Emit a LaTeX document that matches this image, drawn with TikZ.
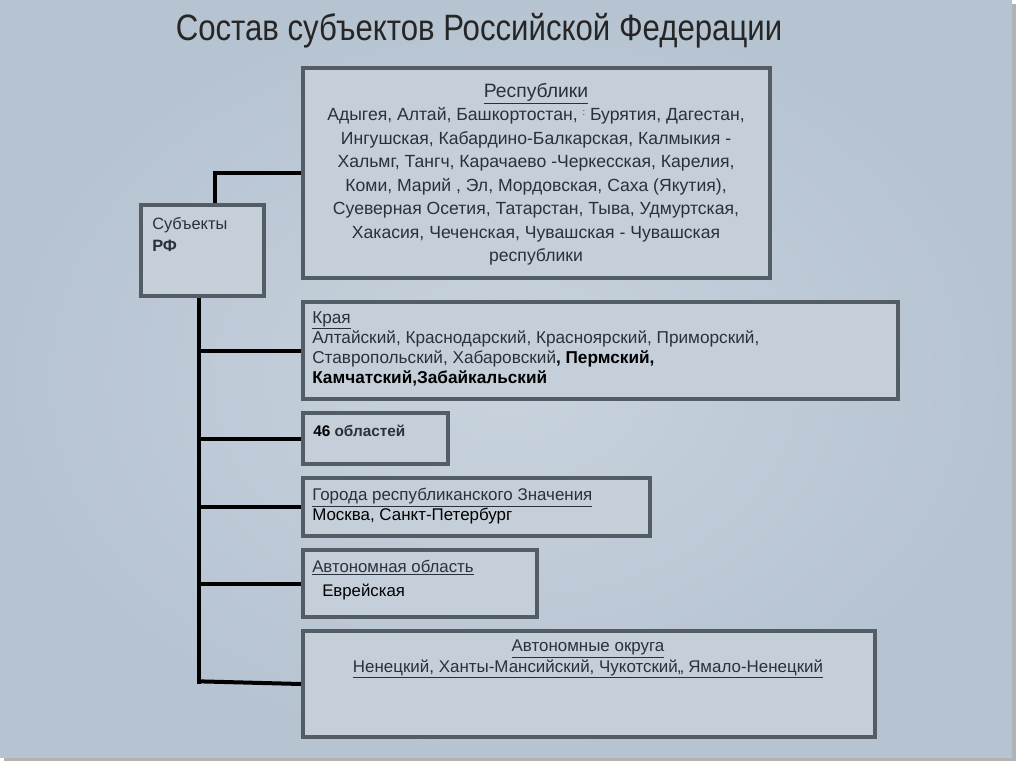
\documentclass[tikz,border=0pt]{standalone}
\usepackage{fontspec}
\setmainfont{Liberation Sans}
\newfontfamily\titlef{Liberation Sans}[FakeStretch=0.85]
\usetikzlibrary{fit}
\definecolor{bgA}{HTML}{C8D3DE}
\definecolor{bgB}{HTML}{B6C3D1}
\definecolor{boxline}{HTML}{545D66}
\definecolor{boxfill}{HTML}{C4CFDA}
\definecolor{txt}{HTML}{2A3139}
\begin{document}
\begin{tikzpicture}[x=0.75pt,y=-0.75pt,
  box/.style={draw=boxline, line width=3pt, fill=boxfill, inner sep=0pt},
  conn/.style={draw=black, line width=3pt},
  lbl/.style={inner sep=0pt, text=txt},
  ]
\useasboundingbox (0,0) rectangle (1024,767);
\fill[white] (0,0) rectangle (1024,767);
\fill[black!30] (4,4) rectangle (1016,761);
\shade[inner color=bgA, outer color=bgB] (0,0) rectangle (1012,757);

\node[lbl, text=black!85, font=\titlef\fontsize{27.5}{32}\selectfont] (title) at (479,31) {Состав субъектов Российской Федерации};

\node[box, fit={(303,68)(770,278)}] (rep) {};
\node[box, fit={(141,205)(264,296)}] (sub) {};
\node[box, fit={(303,302)(898,399)}] (kra) {};
\node[box, fit={(303,413)(448,464)}] (obl) {};
\node[box, fit={(303,478)(650,536)}] (gor) {};
\node[box, fit={(303,550)(537,617)}] (ao) {};
\node[box, fit={(303,631)(875,737)}] (okr) {};

% connectors
\draw[conn] ([xshift=9pt]sub.north) |- (rep.west);
\coordinate (t) at ([xshift=-3pt]sub.south);
\draw[conn] (t) -- (t |- okr.west);
\draw[conn] (t |- kra.west) -- (kra.west);
\draw[conn] (t |- obl.west) -- (obl.west);
\draw[conn] (t |- gor.west) -- (gor.west);
\draw[conn] (t |- ao.west) -- (ao.west);
\draw[conn] ([yshift=2pt]t |- okr.west) -- (okr.west);

% texts
\node[lbl, anchor=north, align=center, font=\fontsize{13.2}{17.6}\selectfont] (reptext) at (536,83)
 {{\fontsize{14.5}{17.6}\selectfont\underline{Республики}}\\
  Адыгея, Алтай, Башкортостан, \raisebox{0.6ex}{\scriptsize:} Бурятия, Дагестан,\\
  Ингушская, Кабардино-Балкарская, Калмыкия -\\
  Хальмг, Тангч, Карачаево -Черкесская, Карелия,\\
  Коми, Марий , Эл, Мордовская, Саха (Якутия),\\
  Суеверная Осетия, Татарстан, Тыва, Удмуртская,\\
  Хакасия, Чеченская, Чувашская - Чувашская\\
  республики};

\node[lbl, anchor=north west, align=left, font=\fontsize{12.3}{16.5}\selectfont] (subtext) at (152,217)
 {Субъекты\\ \textbf{РФ}};

\node[lbl, anchor=north west, align=left, font=\fontsize{12.9}{15}\selectfont] (kratext) at (312,311)
 {\underline{Края}\\
  Алтайский, Краснодарский, Красноярский, Приморский,\\
  Ставропольский, Хабаровский{\color{black}\bfseries, Пермский,}\\
  {\color{black}\bfseries Камчатский,Забайкальский}};

\node[lbl, anchor=north west, font=\bfseries\fontsize{11.5}{14}\selectfont] (obltext) at (313,425)
 {{\color{black}46} областей};

\node[lbl, anchor=north west, align=left, font=\fontsize{12.7}{15}\selectfont] (gortext) at (312,488)
 {\underline{Города республиканского Значения}\\ {\color{black}Москва, Санкт-Петербург}};

\node[lbl, anchor=north west, font=\fontsize{12.6}{14}\selectfont] (aohead) at (312,560)
 {\underline{Автономная область}};
\node[lbl, anchor=north west, font=\fontsize{12.6}{14}\selectfont, text=black] (aotext) at (322,584)
 {Еврейская};

\node[lbl, anchor=north, align=center, font=\fontsize{12.7}{13.3}\selectfont] (okrtext) at (588,640)
 {\underline{Автономные округа}\\ \underline{Ненецкий, Ханты-Мансийский, Чукотский,, Ямало-Ненецкий}};
\end{tikzpicture}
\end{document}
